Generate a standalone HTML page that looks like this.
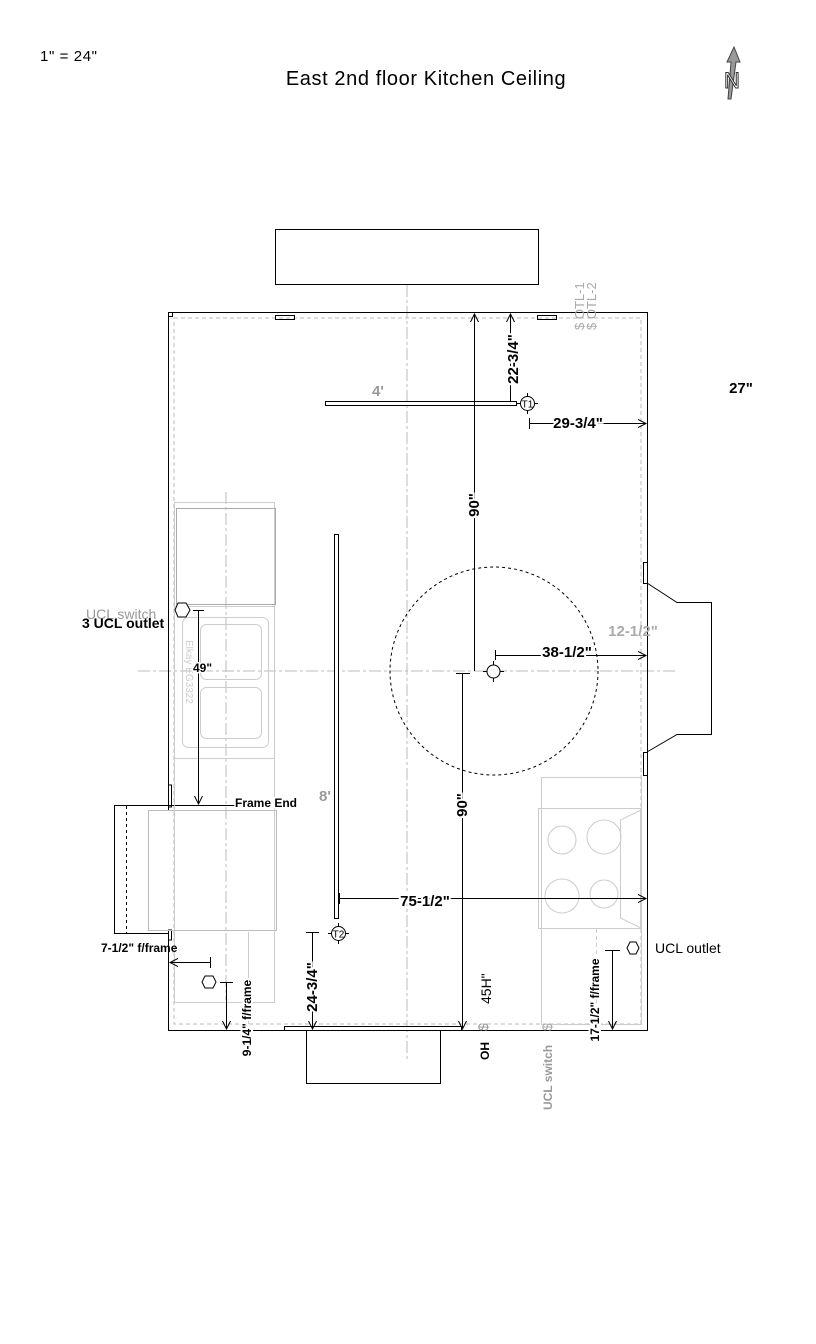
<!DOCTYPE html>
<html><head><meta charset="utf-8"><style>
html,body{margin:0;padding:0;background:#fff;}
svg{display:block;}
text{font-family:"Liberation Sans",Arial,sans-serif;}
.b{font-weight:bold;}
</style></head><body>
<svg width="816" height="1344" viewBox="0 0 816 1344" xmlns="http://www.w3.org/2000/svg">
<defs>
<marker id="a" markerWidth="10" markerHeight="10" refX="8" refY="5" orient="auto" markerUnits="userSpaceOnUse">
<path d="M0,1 L8,5 L0,9" fill="none" stroke="#000" stroke-width="1"/></marker>
</defs>
<rect width="816" height="1344" fill="#fff"/>
<text x="40" y="61" font-size="15" letter-spacing="0.6">1" = 24"</text>
<text x="426" y="85" font-size="20" letter-spacing="0.6" text-anchor="middle">East 2nd floor Kitchen Ceiling</text>
<!-- north arrow -->
<g>
<path d="M734,47 L740,62 L736,62 L731,99 L728,99 L731,62 L727,62 Z" fill="#999" stroke="#444" stroke-width="1"/>
<text x="732" y="88" font-size="22" font-family="Liberation Serif" text-anchor="middle" fill="#fff" stroke="#333" stroke-width="1">N</text>
</g>

<g stroke="#bbb" stroke-width="1" stroke-dasharray="12,3,3,3" fill="none">
<line x1="407" y1="285" x2="407" y2="1062"/>
<line x1="138" y1="671" x2="676" y2="671"/>
<line x1="226" y1="492" x2="226" y2="1000"/>
</g>
<rect x="174" y="318" width="467" height="706" fill="none" stroke="#bbb" stroke-dasharray="4,3"/>

<rect x="275.5" y="229.5" width="263" height="55" fill="none" stroke="#000"/>
<path d="M168.5,810 L168.5,312.5 L647.5,312.5 L647.5,1030.5 L168.5,1030.5 L168.5,932" fill="none" stroke="#000"/>
<rect x="168.5" y="312.5" width="4" height="4" fill="none" stroke="#000"/>
<rect x="275.5" y="315.5" width="19" height="4" fill="none" stroke="#000"/>
<rect x="537.5" y="315.5" width="19" height="4" fill="none" stroke="#000"/>
<rect x="168.5" y="785" width="3" height="22" fill="none" stroke="#000"/>
<rect x="168.5" y="930" width="3" height="10" fill="none" stroke="#000"/>
<path d="M168,805.5 L114.5,805.5 L114.5,933.5 L168,933.5" fill="none" stroke="#000"/>
<line x1="126.5" y1="806" x2="126.5" y2="933" stroke="#000" stroke-dasharray="3,3"/>
<line x1="168" y1="805.5" x2="235" y2="805.5" stroke="#000"/>
<rect x="148.5" y="810.5" width="128" height="120" fill="none" stroke="#bbb"/>

<g fill="none" stroke="#ccc">
<rect x="174.5" y="502.5" width="100" height="500"/>
<line x1="174" y1="606.5" x2="274" y2="606.5"/>
<line x1="174" y1="758.5" x2="274" y2="758.5"/>
<rect x="182.5" y="617.5" width="86" height="130" rx="6"/>
<rect x="200.5" y="624.5" width="61" height="55" rx="6"/>
<rect x="200.5" y="687.5" width="61" height="51" rx="6"/>
<line x1="248.5" y1="932" x2="248.5" y2="1024"/>
</g>
<rect x="176.5" y="508.5" width="99" height="96" fill="none" stroke="#aaa"/>
<text x="0" y="0" font-size="10" fill="#ccc" transform="translate(186,640) rotate(90)">Elkay EG3322</text>

<rect x="325.5" y="401.5" width="191" height="4" fill="#fff" stroke="#000"/>
<text x="378" y="396" font-size="15" fill="#999" class="b" text-anchor="middle">4'</text>
<circle cx="527.5" cy="403.5" r="7" fill="#fff" stroke="#000"/>
<g stroke="#000"><line x1="517" y1="403.5" x2="520" y2="403.5"/><line x1="535" y1="403.5" x2="538" y2="403.5"/><line x1="527.5" y1="393" x2="527.5" y2="396"/><line x1="527.5" y1="411" x2="527.5" y2="414"/></g>
<text x="527.5" y="407.5" font-size="10" text-anchor="middle">T1</text>

<line x1="510.5" y1="401" x2="510.5" y2="314" stroke="#000" marker-end="url(#a)"/>
<line x1="507" y1="401.5" x2="514" y2="401.5" stroke="#000"/>
<text class="b" font-size="15" text-anchor="middle" transform="translate(518,359) rotate(-90)" fill="#000" stroke="#fff" stroke-width="4" paint-order="stroke">22-3/4"</text>
<line x1="474.5" y1="671" x2="474.5" y2="314" stroke="#000" marker-end="url(#a)"/>
<text class="b" font-size="15" text-anchor="middle" transform="translate(479,505) rotate(-90)" fill="#000" stroke="#fff" stroke-width="4" paint-order="stroke">90"</text>
<line x1="529.5" y1="423.5" x2="646" y2="423.5" stroke="#000" marker-end="url(#a)"/>
<line x1="529.5" y1="418" x2="529.5" y2="429" stroke="#000"/>
<text x="578" y="428" class="b" font-size="15" text-anchor="middle" fill="#000" stroke="#fff" stroke-width="4" paint-order="stroke">29-3/4"</text>
<text x="741" y="393" class="b" font-size="15" text-anchor="middle">27"</text>
<text font-size="13" fill="#aaa" transform="translate(584,330) rotate(-90)">$ OTL-1</text>
<text font-size="13" fill="#aaa" transform="translate(596,330) rotate(-90)">$ OTL-2</text>

<path d="M647,583 L677,602.5 L711.5,602.5 L711.5,734.5 L677,734.5 L647,752" fill="none" stroke="#000"/>
<rect x="643.5" y="562.5" width="4" height="21" fill="none" stroke="#000"/>
<rect x="643.5" y="752.5" width="4" height="23" fill="none" stroke="#000"/>

<rect x="334.5" y="534.5" width="4" height="384" fill="#fff" stroke="#000"/>
<text x="325" y="801" font-size="15" fill="#999" class="b" text-anchor="middle">8'</text>
<circle cx="338.5" cy="933.5" r="7" fill="#fff" stroke="#000"/>
<g stroke="#000"><line x1="328" y1="933.5" x2="331" y2="933.5"/><line x1="346" y1="933.5" x2="349" y2="933.5"/><line x1="338.5" y1="923" x2="338.5" y2="926"/><line x1="338.5" y1="941" x2="338.5" y2="944"/></g>
<text x="338.5" y="937.5" font-size="10" text-anchor="middle">T2</text>

<circle cx="494" cy="671" r="104" fill="none" stroke="#000" stroke-dasharray="3,3"/>
<circle cx="493.5" cy="671.5" r="6.5" fill="#fff" stroke="#000"/>
<g stroke="#000"><line x1="483" y1="671.5" x2="487" y2="671.5"/><line x1="500" y1="671.5" x2="504" y2="671.5"/><line x1="493.5" y1="661" x2="493.5" y2="665"/><line x1="493.5" y1="678" x2="493.5" y2="682"/></g>
<line x1="495.5" y1="655.5" x2="646" y2="655.5" stroke="#000" marker-end="url(#a)"/>
<line x1="495.5" y1="650" x2="495.5" y2="660" stroke="#000"/>
<text x="567" y="657" class="b" font-size="15" text-anchor="middle" fill="#000" stroke="#fff" stroke-width="4" paint-order="stroke">38-1/2"</text>
<text x="633" y="636" class="b" font-size="15" fill="#aaa" text-anchor="middle">12-1/2"</text>
<line x1="462.5" y1="673" x2="462.5" y2="1029" stroke="#000" marker-end="url(#a)"/>
<line x1="456" y1="673.5" x2="470" y2="673.5" stroke="#000"/>
<text class="b" font-size="15" text-anchor="middle" transform="translate(467,805) rotate(-90)" fill="#000" stroke="#fff" stroke-width="4" paint-order="stroke">90"</text>

<g fill="none" stroke="#ccc">
<rect x="541.5" y="777.5" width="100" height="247"/>
<rect x="538.5" y="808.5" width="102" height="120"/>
<path d="M641,810 L620.5,820 L620.5,918 L641,928"/>
<circle cx="562" cy="840" r="14"/><circle cx="604" cy="837" r="17"/>
<circle cx="562" cy="896" r="17"/><circle cx="604" cy="894" r="14"/>
<line x1="596.5" y1="929" x2="596.5" y2="1024" stroke-dasharray="4,3"/>
</g>
<line x1="339" y1="898.5" x2="646" y2="898.5" stroke="#000" marker-end="url(#a)"/>
<line x1="339.5" y1="893" x2="339.5" y2="904" stroke="#000"/>
<text x="425" y="906" class="b" font-size="15" text-anchor="middle" fill="#000" stroke="#fff" stroke-width="4" paint-order="stroke">75-1/2"</text>

<polygon points="627,948 630,942 636,942 639,948 636,954 630,954" fill="#fff" stroke="#000"/>
<text x="655" y="953" font-size="14">UCL outlet</text>
<line x1="612.5" y1="951" x2="612.5" y2="1029" stroke="#000" marker-end="url(#a)"/>
<line x1="605" y1="950.5" x2="620" y2="950.5" stroke="#000"/>
<text class="b" font-size="12" text-anchor="middle" transform="translate(599,1000) rotate(-90)" fill="#000" stroke="#fff" stroke-width="4" paint-order="stroke">17-1/2" f/frame</text>

<text font-size="14" fill="#999" transform="translate(488,1031) rotate(-90)">$</text>
<text font-size="14" transform="translate(491,1004) rotate(-90)">45H"</text>
<text class="b" font-size="12" transform="translate(489,1060) rotate(-90)">OH</text>
<text font-size="14" fill="#aaa" transform="translate(552,1031) rotate(-90)">$</text>
<text class="b" font-size="12" fill="#999" transform="translate(552,1110) rotate(-90)">UCL switch</text>

<rect x="284.5" y="1026.5" width="177" height="4" fill="#fff" stroke="#000"/>
<path d="M306.5,1031 L306.5,1083.5 L440.5,1083.5 L440.5,1031" fill="none" stroke="#000"/>
<line x1="312.5" y1="932" x2="312.5" y2="1029" stroke="#000" marker-end="url(#a)"/>
<line x1="306" y1="932.5" x2="319" y2="932.5" stroke="#000"/>
<text class="b" font-size="15" text-anchor="middle" transform="translate(317,987) rotate(-90)" fill="#000" stroke="#fff" stroke-width="4" paint-order="stroke">24-3/4"</text>

<text x="101" y="952" class="b" font-size="12">7-1/2" f/frame</text>
<line x1="210" y1="962.5" x2="170" y2="962.5" stroke="#000" marker-end="url(#a)"/>
<line x1="210.5" y1="957" x2="210.5" y2="968" stroke="#000"/>
<polygon points="202,982 205,976 213,976 216,982 213,988 205,988" fill="#fff" stroke="#000"/>
<line x1="226.5" y1="982" x2="226.5" y2="1029" stroke="#000" marker-end="url(#a)"/>
<line x1="220" y1="982.5" x2="233" y2="982.5" stroke="#000"/>
<text class="b" font-size="12" text-anchor="middle" transform="translate(251,1018) rotate(-90)" fill="#000" stroke="#fff" stroke-width="4" paint-order="stroke">9-1/4" f/frame</text>

<polygon points="175,610 178,603 186,603 190,610 186,617 178,617" fill="#fff" stroke="#000"/>
<text x="86" y="619" font-size="14" fill="#999">UCL switch</text>
<text x="82" y="628" class="b" font-size="14">3 UCL outlet</text>
<line x1="198.5" y1="611" x2="198.5" y2="804" stroke="#000" marker-end="url(#a)"/>
<line x1="193" y1="610.5" x2="204" y2="610.5" stroke="#000"/>
<text x="193" y="672" class="b" font-size="12" fill="#000" stroke="#fff" stroke-width="3" paint-order="stroke">49"</text>
<text x="235" y="807" class="b" font-size="12" fill="#000" stroke="#fff" stroke-width="3" paint-order="stroke">Frame End</text>
</svg>
</body></html>
